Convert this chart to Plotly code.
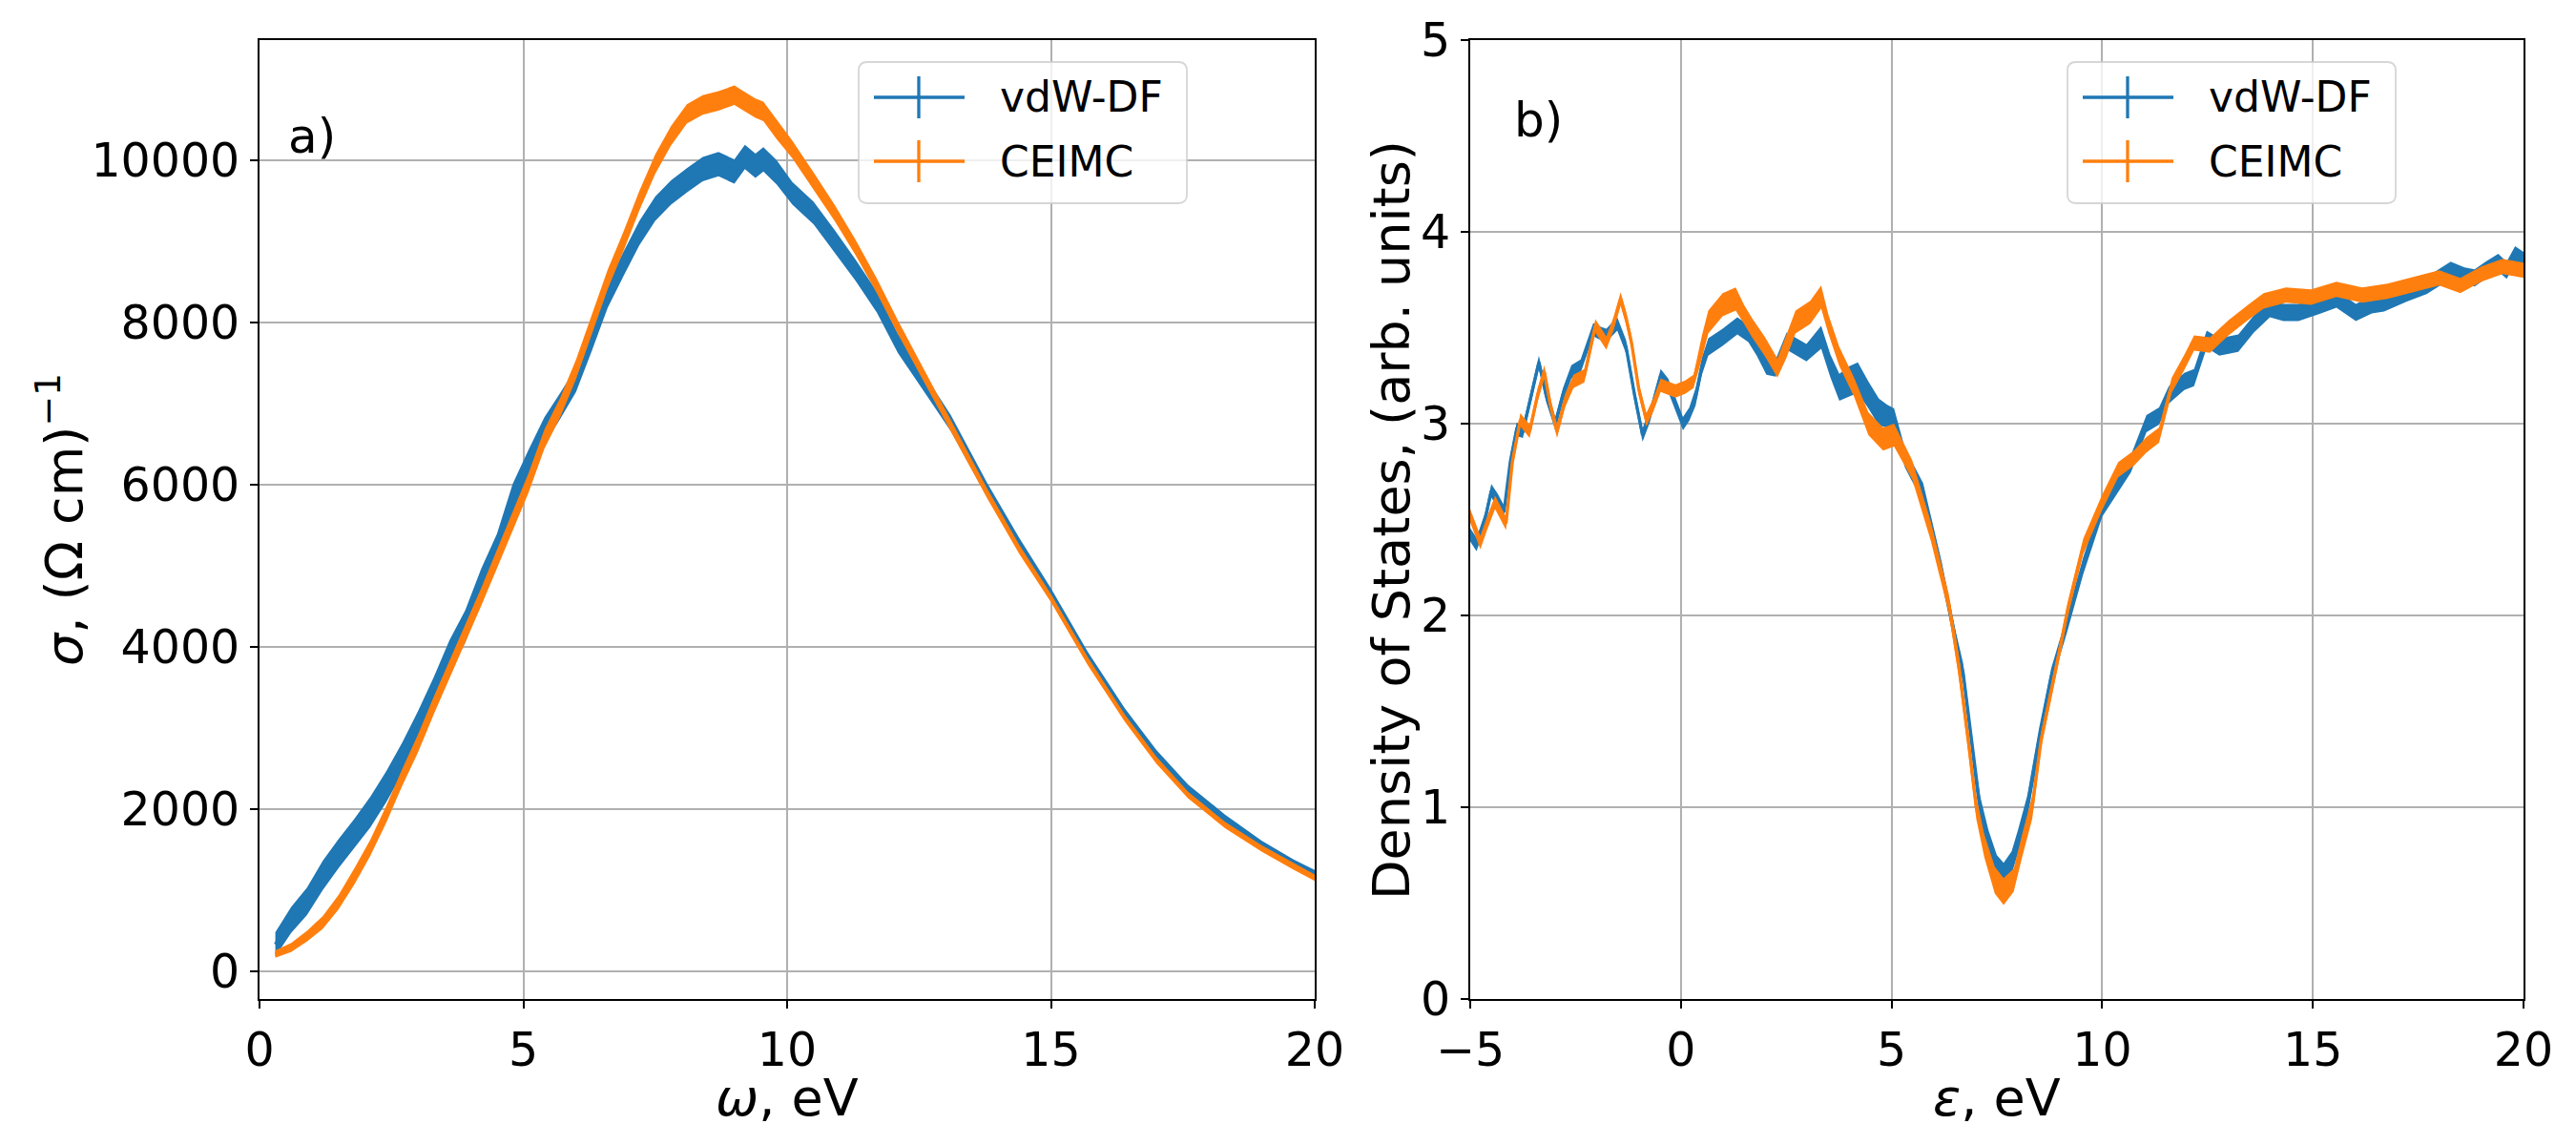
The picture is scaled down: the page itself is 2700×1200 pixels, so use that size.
import numpy as np
import plotly.graph_objects as go

# ---------------- data: panel a) optical conductivity ----------------
omega = [0.3, 0.6, 0.9, 1.2, 1.5, 1.8, 2.1, 2.4, 2.7, 3.0, 3.3, 3.6, 3.9, 4.2, 4.5,
         4.8, 5.1, 5.4, 5.7, 6.0, 6.3, 6.6, 6.9, 7.2, 7.5, 7.8, 8.1, 8.4, 8.7, 9.0,
         9.2, 9.4, 9.55, 9.8, 10.1, 10.5, 10.9, 11.3, 11.7, 12.1, 12.6, 13.1, 13.8,
         14.4, 15.0, 15.7, 16.4, 17.0, 17.6, 18.3, 19.0, 19.6, 20.0]
sigma_vdw = [330, 630, 860, 1180, 1450, 1700, 1960, 2270, 2620, 3000, 3420, 3880, 4250,
             4760, 5190, 5820, 6250, 6660, 6970, 7290, 7800, 8330, 8720, 9100, 9400, 9600,
             9750, 9890, 9950, 9860, 10040, 9930, 10010, 9850, 9590, 9350, 9000, 8640,
             8250, 7740, 7250, 6760, 5920, 5260, 4650, 3870, 3180, 2670, 2250, 1880, 1560,
             1330, 1200]
err_vdw = [150, 160, 170, 180, 180, 180, 190, 190, 190, 200, 200, 200, 200, 200, 200,
           190, 180, 170, 160, 150, 150, 150, 150, 150, 150, 150, 150, 150, 150, 150,
           150, 150, 150, 150, 140, 140, 140, 130, 130, 120, 110, 100, 90, 80, 70, 65, 60,
           55, 50, 50, 45, 45, 45]
sigma_ceimc = [210, 290, 430, 600, 850, 1170, 1520, 1930, 2380, 2800, 3270, 3720, 4150,
               4610, 5080, 5550, 6020, 6560, 6950, 7420, 7980, 8530, 9000, 9500, 9950,
               10300, 10570, 10680, 10730, 10800, 10720, 10640, 10600, 10380, 10130, 9740,
               9350, 8920, 8450, 7940, 7330, 6730, 5880, 5200, 4600, 3820, 3120, 2600, 2170,
               1800, 1510, 1290, 1150]
err_ceimc = [45, 55, 65, 80, 90, 100, 100, 105, 105, 110, 110, 110, 110, 110, 115, 115,
             120, 120, 120, 120, 120, 120, 120, 120, 120, 120, 120, 120, 120, 120, 120,
             120, 120, 120, 110, 110, 100, 95, 90, 85, 75, 70, 60, 55, 50, 50, 45, 45, 40,
             40, 40, 40, 40]

# ---------------- data: panel b) density of states ----------------
eps_vdw = [-5.0, -4.85, -4.65, -4.5, -4.35, -4.2, -4.05, -3.9, -3.75, -3.55, -3.37, -3.2,
           -2.98, -2.8, -2.6, -2.38, -2.2, -2.08, -1.9, -1.77, -1.51, -1.3, -1.1, -0.91,
           -0.74, -0.48, -0.3, -0.1, 0.05, 0.2, 0.35, 0.5, 0.65, 0.99, 1.34, 1.6, 1.8,
           2.03, 2.25, 2.51, 2.75, 2.98, 3.33, 3.55, 3.76, 4.0, 4.2, 4.45, 4.7, 4.89,
           5.06, 5.32, 5.75, 6.19, 6.53, 6.7, 7.0, 7.1, 7.3, 7.5, 7.66, 7.85, 8.0, 8.22,
           8.5, 8.79, 9.17, 9.55, 10.0, 10.38, 10.68, 11.05, 11.35, 11.58, 11.95, 12.18,
           12.48, 12.78, 13.23, 13.6, 13.98, 14.3, 14.66, 15.19, 15.56, 16.02, 16.4,
           16.69, 17.22, 17.7, 18.0, 18.27, 18.6, 18.84, 19.1, 19.4, 19.6, 19.8, 20.0]
dos_vdw = [2.42, 2.37, 2.50, 2.65, 2.60, 2.54, 2.80, 2.97, 2.96, 3.15, 3.32, 3.15, 3.00,
           3.15, 3.27, 3.30, 3.42, 3.49, 3.47, 3.46, 3.52, 3.40, 3.15, 2.94, 3.04, 3.25,
           3.20, 3.08, 3.00, 3.05, 3.14, 3.30, 3.40, 3.45, 3.51, 3.47, 3.40, 3.30, 3.29,
           3.43, 3.40, 3.37, 3.45, 3.30, 3.19, 3.22, 3.24, 3.15, 3.06, 3.04, 3.02, 2.82,
           2.64, 2.23, 1.86, 1.70, 1.15, 1.00, 0.82, 0.69, 0.65, 0.71, 0.82, 1.00, 1.35,
           1.68, 1.96, 2.26, 2.56, 2.69, 2.79, 3.00, 3.04, 3.15, 3.22, 3.24, 3.44, 3.40,
           3.42, 3.52, 3.60, 3.58, 3.58, 3.62, 3.65, 3.58, 3.62, 3.63, 3.68, 3.72, 3.76,
           3.80, 3.77, 3.76, 3.80, 3.84, 3.80, 3.88, 3.85]
dos_err_vdw = [0.035] * 30 + [0.045] * 12 + [0.06, 0.06, 0.07, 0.08, 0.08, 0.07, 0.07,
                                              0.06, 0.06, 0.05, 0.05, 0.05, 0.05, 0.05,
                                              0.06, 0.06, 0.06, 0.06, 0.06, 0.06, 0.06,
                                              0.06, 0.06] + [0.045] * 34
eps_ceimc = [-5.0, -4.76, -4.6, -4.41, -4.15, -4.0, -3.81, -3.59, -3.4, -3.24, -3.1,
             -2.94, -2.75, -2.55, -2.29, -2.15, -2.03, -1.77, -1.6, -1.43, -1.3, -1.17,
             -1.0, -0.82, -0.65, -0.48, -0.13, 0.1, 0.3, 0.5, 0.65, 0.99, 1.3, 1.5, 1.69,
             2.0, 2.29, 2.5, 2.72, 3.07, 3.33, 3.5, 3.76, 4.11, 4.45, 4.8, 5.06, 5.49,
             5.93, 6.36, 6.6, 6.82, 7.01, 7.2, 7.45, 7.66, 7.9, 8.1, 8.34, 8.55, 8.79,
             9.02, 9.17, 9.55, 10.0, 10.38, 10.75, 11.05, 11.35, 11.65, 11.95, 12.18,
             12.56, 13.0, 13.46, 13.83, 14.36, 14.96, 15.56, 16.17, 16.77, 17.3, 17.7,
             18.0, 18.5, 19.0, 19.5, 20.0]
dos_ceimc = [2.52, 2.38, 2.48, 2.59, 2.48, 2.80, 3.02, 2.96, 3.15, 3.27, 3.10, 2.96, 3.12,
             3.22, 3.25, 3.40, 3.51, 3.42, 3.52, 3.65, 3.55, 3.42, 3.18, 3.02, 3.10, 3.20,
             3.17, 3.19, 3.22, 3.40, 3.53, 3.62, 3.65, 3.57, 3.50, 3.40, 3.29, 3.40, 3.53,
             3.58, 3.66, 3.52, 3.35, 3.19, 3.00, 2.92, 2.94, 2.76, 2.44, 2.06, 1.73, 1.35,
             1.00, 0.80, 0.62, 0.56, 0.62, 0.80, 1.00, 1.35, 1.60, 1.85, 2.02, 2.36, 2.59,
             2.76, 2.82, 2.89, 2.94, 3.20, 3.32, 3.42, 3.41, 3.50, 3.58, 3.64, 3.67, 3.66,
             3.70, 3.67, 3.69, 3.72, 3.74, 3.76, 3.72, 3.78, 3.82, 3.80]
dos_err_ceimc = [0.035] * 29 + [0.06, 0.06, 0.06, 0.06, 0.05, 0.05, 0.05, 0.05, 0.06,
                                0.06, 0.06, 0.06, 0.05, 0.05, 0.05, 0.06, 0.06, 0.06,
                                0.05, 0.05, 0.05, 0.06, 0.06, 0.06, 0.06, 0.07, 0.07,
                                0.06, 0.06, 0.06] + [0.04] * 29

series_names = ["vdW-DF", "CEIMC"]
BLUE = "#1f77b4"
ORANGE = "#ff7f0e"
FONT = "DejaVu Sans"
W, H = 2700, 1200


def band(fig, x, y, e, color, name, xa, ya):
    x = np.asarray(x, float)
    y = np.asarray(y, float)
    e = np.asarray(e, float)
    fig.add_trace(go.Scatter(x=x, y=y + e, mode="lines", line=dict(width=0, color=color),
                             showlegend=False, hoverinfo="skip", xaxis=xa, yaxis=ya))
    fig.add_trace(go.Scatter(x=x, y=y - e, mode="lines", line=dict(width=0, color=color),
                             fill="tonexty", fillcolor=color, showlegend=False,
                             hoverinfo="skip", xaxis=xa, yaxis=ya))
    fig.add_trace(go.Scatter(x=x, y=y, mode="lines", line=dict(width=3.3, color=color),
                             name=name, showlegend=False, xaxis=xa, yaxis=ya,
                             error_y=dict(type="data", array=e, visible=False)))


fig = go.Figure()
band(fig, omega, sigma_vdw, err_vdw, BLUE, series_names[0], "x", "y")
band(fig, omega, sigma_ceimc, err_ceimc, ORANGE, series_names[1], "x", "y")
band(fig, eps_vdw, dos_vdw, dos_err_vdw, BLUE, series_names[0], "x2", "y2")
band(fig, eps_ceimc, dos_ceimc, dos_err_ceimc, ORANGE, series_names[1], "x2", "y2")


def px(x):
    return x / W


def py(y):
    return 1 - y / H


axis_common = dict(
    showline=True, linecolor="black", linewidth=1.8, mirror=True,
    ticks="outside", ticklen=8, tickwidth=1.8, tickcolor="black",
    showgrid=True, gridcolor="#b0b0b0", gridwidth=1.8, zeroline=False,
    tickfont=dict(family=FONT, size=49, color="black"),
    ticklabelstandoff=1, automargin=False,
)

fig.update_layout(
    template="none",
    width=W, height=H,
    margin=dict(l=0, r=0, t=0, b=0, autoexpand=False),
    paper_bgcolor="white", plot_bgcolor="white",
    font=dict(family=FONT, color="black"),
    showlegend=False,
    xaxis=dict(domain=[px(272), px(1378)], range=[0, 20], tickvals=[0, 5, 10, 15, 20],
               anchor="y", **axis_common),
    yaxis=dict(domain=[py(1047), py(42)], range=[-345, 11480],
               tickvals=[0, 2000, 4000, 6000, 8000, 10000],
               ticktext=["0", "2000", "4000", "6000", "8000", "10000"], anchor="x",
               **axis_common),
    xaxis2=dict(domain=[px(1541), px(2645)], range=[-5, 20], tickvals=[-5, 0, 5, 10, 15, 20],
                anchor="y2", **axis_common),
    yaxis2=dict(domain=[py(1047), py(42)], range=[0, 5], tickvals=[0, 1, 2, 3, 4, 5],
                anchor="x2", **axis_common),
)


def rounded_rect(x0, y0, x1, y1, r):
    return (f"M {px(x0 + r)},{py(y0)} L {px(x1 - r)},{py(y0)} "
            f"Q {px(x1)},{py(y0)} {px(x1)},{py(y0 + r)} L {px(x1)},{py(y1 - r)} "
            f"Q {px(x1)},{py(y1)} {px(x1 - r)},{py(y1)} L {px(x0 + r)},{py(y1)} "
            f"Q {px(x0)},{py(y1)} {px(x0)},{py(y1 - r)} L {px(x0)},{py(y0 + r)} "
            f"Q {px(x0)},{py(y0)} {px(x0 + r)},{py(y0)} Z")


shapes = []
annotations = []
for bx in (900, 2167):
    shapes.append(dict(type="path", xref="paper", yref="paper",
                       path=rounded_rect(bx, 65, bx + 344, 213, 9),
                       fillcolor="rgba(255,255,255,0.8)",
                       line=dict(color="rgba(204,204,204,0.8)", width=1.8)))
    for name, color, cy in ((series_names[0], BLUE, 102), (series_names[1], ORANGE, 169)):
        shapes.append(dict(type="line", xref="paper", yref="paper",
                           x0=px(bx + 16), x1=px(bx + 111), y0=py(cy), y1=py(cy),
                           line=dict(color=color, width=3.3)))
        shapes.append(dict(type="line", xref="paper", yref="paper",
                           x0=px(bx + 63), x1=px(bx + 63), y0=py(cy - 22), y1=py(cy + 22),
                           line=dict(color=color, width=3.3)))
        annotations.append(dict(xref="paper", yref="paper", x=px(bx + 146), y=py(cy),
                                xanchor="left", yanchor="middle", showarrow=False,
                                text=name, font=dict(family=FONT, size=44, color="black")))

annotations.append(dict(xref="paper", yref="paper", x=px(300), y=py(143), xanchor="left",
                        yanchor="middle", showarrow=False, text="a)",
                        font=dict(family=FONT, size=50, color="black")))
annotations.append(dict(xref="paper", yref="paper", x=px(1585), y=py(126), xanchor="left",
                        yanchor="middle", showarrow=False, text="b)",
                        font=dict(family=FONT, size=50, color="black")))

# axis titles
title_font = dict(family=FONT, size=54, color="black")
annotations += [
    dict(xref="paper", yref="paper", x=px(825), y=py(1150), xanchor="center",
         yanchor="middle", showarrow=False, text="<i>ω</i>, eV", font=title_font),
    dict(xref="paper", yref="paper", x=px(2093), y=py(1150), xanchor="center",
         yanchor="middle", showarrow=False, text="<i>ε</i>, eV", font=title_font),
    dict(xref="paper", yref="paper", x=px(64), y=py(545), xanchor="center",
         yanchor="middle", showarrow=False, textangle=-90,
         text="<i>σ</i>, (Ω cm)<sup>−1</sup>", font=title_font),
    dict(xref="paper", yref="paper", x=px(1459), y=py(545), xanchor="center",
         yanchor="middle", showarrow=False, textangle=-90,
         text="Density of States, (arb. units)", font=title_font),
]

fig.update_layout(shapes=shapes, annotations=annotations)
fig.write_html("out.html")
